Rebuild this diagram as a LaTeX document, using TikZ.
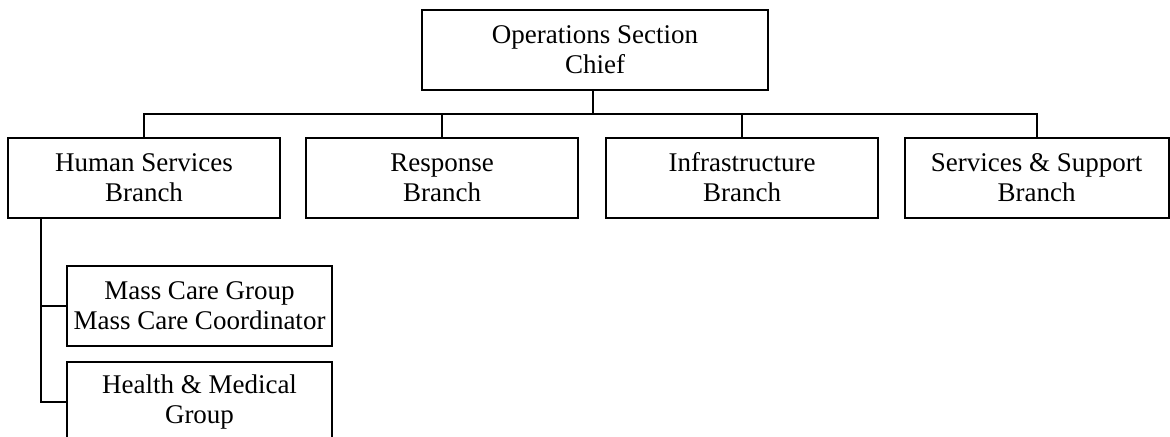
\documentclass[tikz,border=0pt]{standalone}
\usepackage{fontspec}
\setmainfont{Liberation Serif}
\tikzset{
    unit/.style={draw, line width=1pt, rectangle, align=center, inner sep=0pt,
        minimum width=136pt, minimum height=40pt, font=\fontsize{13.5}{15}\selectfont},
}
\begin{document}
\begin{tikzpicture}[x=0.5pt, y=-0.5pt, line width=1pt]
            \useasboundingbox (0,0) rectangle (1170,436);
            \node[unit, minimum width=173pt] (chief) at (595,50) {Operations Section\\Chief};
            \begin{scope}
                \node[unit] (human) at (144,177.5) {Human Services\\Branch};
                \node[unit] (resp) at (442,177.5) {Response\\Branch};
                \node[unit] (infra) at (742,177.5) {Infrastructure\\Branch};
                \node[unit, minimum width=132pt] (serv) at (1036.5,177.5) {Services \& Support\\Branch};
            \end{scope}
            \begin{scope}
                \node[unit, minimum width=132.5pt] (mass) at (199.5,306) {Mass Care Group\\Mass Care Coordinator};
                \node[unit, minimum width=132.5pt] (health) at (199.5,402) {Health \& Medical\\Group};
            \end{scope}
            \coordinate (bus) at (593,114);
            \coordinate (spine) at (41,218);
            \draw (chief.south -| bus) -- (bus);
            \draw (human.north) |- (bus) -| (serv.north);
            \draw (resp.north) -- (resp.north |- bus);
            \draw (infra.north) -- (infra.north |- bus);
            \draw (spine) |- (mass.west);
            \draw (spine) |- (health.west);
        \end{tikzpicture}
\end{document}
